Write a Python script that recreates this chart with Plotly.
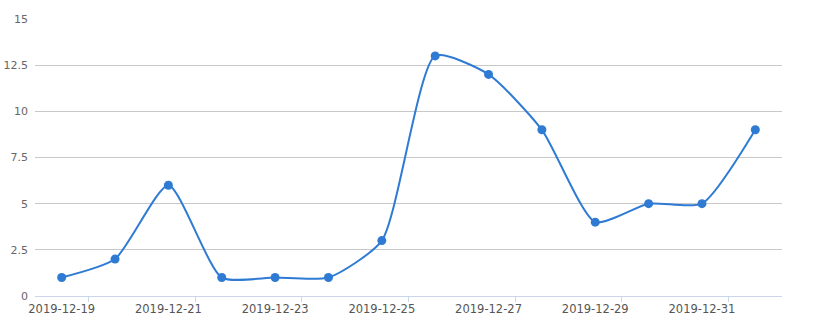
import plotly.graph_objects as go

dates = ["2019-12-19", "2019-12-20", "2019-12-21", "2019-12-22", "2019-12-23",
         "2019-12-24", "2019-12-25", "2019-12-26", "2019-12-27", "2019-12-28",
         "2019-12-29", "2019-12-30", "2019-12-31", "2020-01-01"]
values = [1, 2, 6, 1, 1, 1, 3, 13, 12, 9, 4, 5, 5, 9]
y_ticks = [0, 2.5, 5, 7.5, 10, 12.5, 15]
y_labels = ["0", "2.5", "5", "7.5", "10", "12.5", "15"]

idx = list(range(len(dates)))
label_pos = idx[::2]
label_text = [dates[i] for i in label_pos]
tick_pos = [i + 0.5 for i in label_pos]

color = "#2f7bd4"
fam = "DejaVu Sans, sans-serif"

fig = go.Figure()
fig.add_trace(go.Scatter(
    x=idx, y=values, mode="lines+markers",
    line=dict(color=color, width=2, shape="spline", smoothing=0.6),
    marker=dict(color=color, size=9),
    showlegend=False, hoverinfo="y",
))
fig.add_trace(go.Scatter(x=[idx[0]], y=[values[0]], xaxis="x2", mode="markers",
                         marker=dict(opacity=0), showlegend=False, hoverinfo="skip"))

fig.update_layout(
    width=814, height=323,
    margin=dict(l=35, r=32, t=19, b=27, autoexpand=False),
    paper_bgcolor="white", plot_bgcolor="white",
    font=dict(family=fam, size=11, color="#666666"),
    xaxis=dict(
        range=[-0.5, len(dates) - 0.5],
        tickvals=tick_pos, showticklabels=False,
        ticks="outside", ticklen=5, tickcolor="#ccd6eb",
        showgrid=False, zeroline=False, automargin=False,
        showline=True, linecolor="#ccd6eb", linewidth=1,
    ),
    xaxis2=dict(
        overlaying="x", anchor="y", side="bottom",
        range=[-0.5, len(dates) - 0.5],
        tickvals=label_pos, ticktext=label_text, automargin=False,
        ticks="", showgrid=False, zeroline=False, showline=False,
        ticklabelstandoff=4,
        tickfont=dict(family=fam, size=11.5, color="#555555"),
    ),
    yaxis=dict(
        range=[0, 15], tickvals=y_ticks, ticktext=y_labels, automargin=False,
        showgrid=True, gridcolor="#c8c8c8", gridwidth=1,
        zeroline=False, showline=False, ticks="", ticklabelstandoff=6,
        tickfont=dict(family=fam, size=11, color="#666666"),
    ),
)

fig.write_html("out.html")
